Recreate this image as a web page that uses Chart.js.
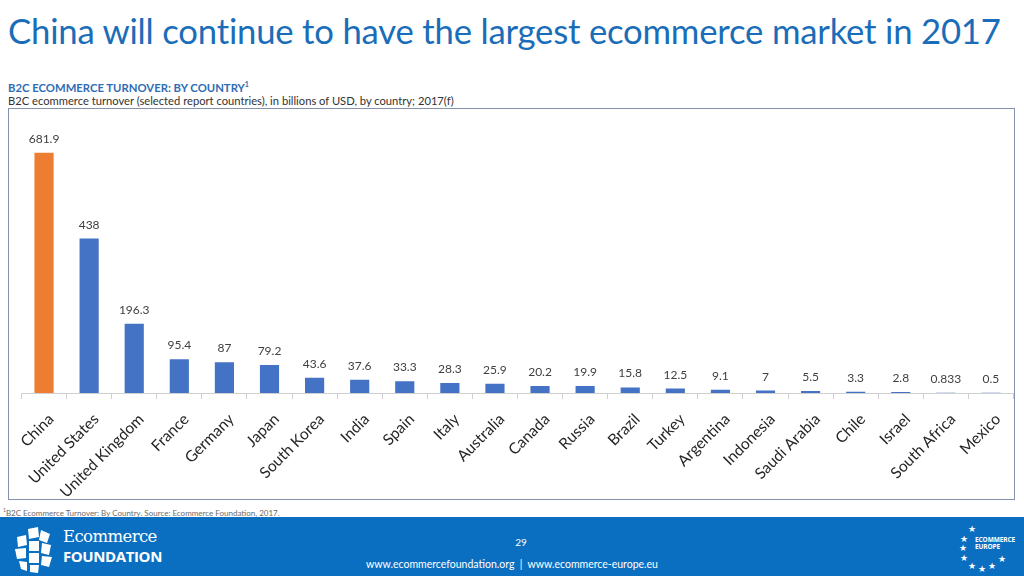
<!DOCTYPE html>
<html>
<head>
<meta charset="utf-8">
<script src="https://cdn.jsdelivr.net/npm/chart.js@4.4.1/dist/chart.umd.min.js"></script>
<style>
  html, body { margin: 0; padding: 0; }
  body { width: 1024px; height: 576px; position: relative; overflow: hidden; background: #ffffff; font-family: Lato, "Open Sans", sans-serif; }
  #title { position: absolute; left: 8px; top: 10px; font-size: 34.7px; color: #1a6db8; white-space: nowrap; letter-spacing: -0.2px; }
  #sub1 { position: absolute; left: 8px; top: 80px; font-size: 11.3px; font-weight: bold; color: #2f6cb5; white-space: nowrap; }
  #sub1 sup { font-size: 7px; }
  #sub2 { position: absolute; left: 8px; top: 94px; font-size: 11.2px; color: #333333; white-space: nowrap; }
  #frame { position: absolute; left: 8px; top: 108px; width: 1005px; height: 390px; border: 1.5px solid #8592ab; box-sizing: content-box; }
  #chartwrap { position: absolute; left: 0; top: 108px; width: 1024px; height: 392px; }
  #foot { position: absolute; left: 3px; top: 507px; font-size: 8px; color: #6b6b6b; white-space: nowrap; }
  #foot sup { font-size: 5px; }
  #band { position: absolute; left: 0; top: 517px; width: 1024px; height: 59px; background: #0b6fc1; }
  #page { position: absolute; left: 0; width: 1024px; top: 536px; text-align: center; font-size: 10px; color: #ffffff; padding-left: 18px; box-sizing: border-box; }
  #urls { position: absolute; left: 0; width: 1024px; top: 558px; text-align: center; font-size: 10.5px; color: #ffffff; }
  #logoL1 { position: absolute; left: 63px; top: 527px; font-family: "DejaVu Serif", serif; font-size: 16.5px; color: #ffffff; letter-spacing: -0.6px; }
  #logoL2 { position: absolute; left: 63px; top: 546px; font-family: "Open Sans", sans-serif; font-weight: bold; font-size: 15px; color: #ffffff; letter-spacing: -0.4px; }
  #logoIcon { position: absolute; left: 12px; top: 527px; }
  #logoR { position: absolute; left: 955px; top: 517px; width: 69px; height: 59px; color: #ffffff; }
  #logoR .st { position: absolute; font-size: 9px; line-height: 9px; }
  #logoR .tx { position: absolute; font-family: "Open Sans", sans-serif; font-weight: bold; font-size: 6.5px; line-height: 7px; letter-spacing: -0.1px; }
</style>
</head>
<body>
<div id="title">China will continue to have the largest ecommerce market in 2017</div>
<div id="sub1">B2C ECOMMERCE TURNOVER: BY COUNTRY<sup>1</sup></div>
<div id="sub2">B2C ecommerce turnover (selected report countries), in billions of USD, by country; 2017(f)</div>
<div id="frame"></div>
<div id="chartwrap"><canvas id="c" width="1024" height="392"></canvas></div>
<div id="foot"><sup>1</sup>B2C Ecommerce Turnover: By Country. Source: Ecommerce Foundation, 2017.</div>
<div id="band"></div>
<svg id="logoIcon" width="46" height="46" viewBox="0 0 46 46">
  <g fill="#ffffff">
    <polygon points="16,2 26,0 27,10 17,12"/>
    <polygon points="29,3 38,7 35,16 27,13"/>
    <polygon points="5,10 14,8 15,18 6,20"/>
    <polygon points="17,14 27,14 27,24 17,24"/>
    <polygon points="30,16 39,18 37,28 29,26"/>
    <polygon points="3,22 14,21 14,31 5,32"/>
    <polygon points="17,26 27,26 27,36 17,36"/>
    <polygon points="30,29 40,30 37,40 29,38"/>
    <polygon points="7,34 15,35 15,44 9,42"/>
    <polygon points="18,38 27,38 26,46 18,45"/>
  </g>
</svg>
<div id="logoL1">Ecommerce</div>
<div id="logoL2">FOUNDATION</div>
<div id="page">29</div>
<div id="urls">www.ecommercefoundation.org &nbsp;|&nbsp; www.ecommerce-europe.eu</div>
<div id="logoR">
  <span class="st" style="left:13px;top:7px">★</span>
  <span class="st" style="left:5px;top:17px">★</span>
  <span class="st" style="left:4px;top:26px">★</span>
  <span class="st" style="left:5px;top:36px">★</span>
  <span class="st" style="left:13px;top:44px">★</span>
  <span class="st" style="left:23px;top:47px">★</span>
  <span class="st" style="left:33px;top:44px">★</span>
  <span class="st" style="left:43px;top:37px">★</span>
  <span class="tx" style="left:20px;top:19px">ECOMMERCE</span>
  <span class="tx" style="left:20px;top:26px">EUROPE</span>
</div>
<script>
const categories = ["China", "United States", "United Kingdom", "France", "Germany", "Japan", "South Korea", "India", "Spain", "Italy", "Australia", "Canada", "Russia", "Brazil", "Turkey", "Argentina", "Indonesia", "Saudi Arabia", "Chile", "Israel", "South Africa", "Mexico"];
const turnover = [681.9, 438, 196.3, 95.4, 87, 79.2, 43.6, 37.6, 33.3, 28.3, 25.9, 20.2, 19.9, 15.8, 12.5, 9.1, 7, 5.5, 3.3, 2.8, 0.833, 0.5];
const highlightCategory = "China";
const baseColor = "#4472c4";
const highlightColor = "#ed7d31";

const barColors = categories.map(c => c === highlightCategory ? highlightColor : baseColor);

const valueLabelPlugin = {
  id: "valueLabels",
  afterDatasetsDraw(chart) {
    const ctx = chart.ctx;
    const meta = chart.getDatasetMeta(0);
    ctx.save();
    ctx.font = "12px Lato, 'Open Sans', sans-serif";
    ctx.fillStyle = "#404040";
    ctx.textAlign = "center";
    ctx.textBaseline = "alphabetic";
    meta.data.forEach((el, i) => {
      ctx.fillText(String(turnover[i]), el.x, el.y - 10);
    });
    ctx.restore();
  }
};

new Chart(document.getElementById("c"), {
  type: "bar",
  data: {
    labels: categories,
    datasets: [{
      data: turnover,
      backgroundColor: barColors,
      borderWidth: 0,
      barPercentage: 0.85,
      categoryPercentage: 0.5
    }]
  },
  options: {
    responsive: false,
    animation: false,
    devicePixelRatio: 1,
    layout: { autoPadding: false, padding: { left: 21.5, right: 10.5, top: 3, bottom: 0 } },
    plugins: { legend: { display: false }, tooltip: { enabled: false }, title: { display: false } },
    scales: {
      y: { display: false, min: 0, max: 800 },
      x: {
        offset: true,
        grid: { display: true, drawOnChartArea: false, drawTicks: true, tickLength: 6, color: "#d0d0d0", offset: true },
        border: { display: true, color: "#d0d0d0" },
        ticks: {
          autoSkip: false,
          minRotation: 45,
          maxRotation: 45,
          padding: 11,
          labelOffset: 7,
          color: "#262626",
          font: { family: "Lato, 'Open Sans', sans-serif", size: 15.5 }
        },
        afterFit: (scale) => { scale.height = 107; }
      }
    }
  },
  plugins: [valueLabelPlugin]
});
</script>
</body>
</html>
